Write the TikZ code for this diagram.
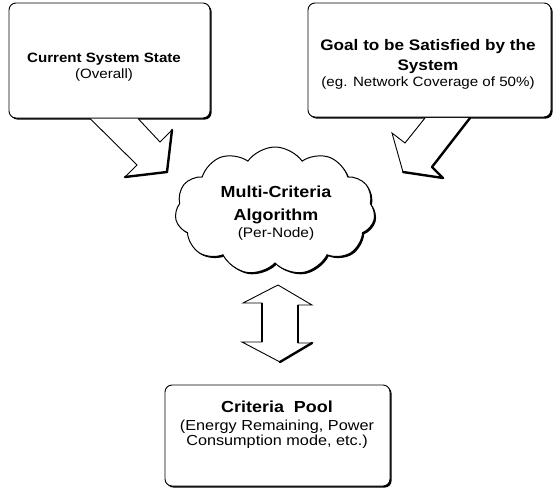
\documentclass[tikz,border=0pt]{standalone}
\usepackage{fontspec}
\setmainfont{Liberation Sans}[FakeStretch=1.12]
\usetikzlibrary{shapes.symbols,shadows}
\begin{document}
\begin{tikzpicture}[x=1pt,y=-1pt,
  sh/.style={general shadow={fill=black, shadow xshift=1.6pt, shadow yshift=-1.6pt}},
  boxstyle/.style={draw, line width=0.9pt, rounded corners=7pt, fill=white, sh, inner sep=0pt},
  ln/.style={anchor=base, inner sep=0pt},
  bf/.style={ln, font=\fontsize{#1}{#1}\selectfont\bfseries},
  rf/.style={ln, font=\fontsize{#1}{#1}\selectfont},
  arr/.style={draw, line width=0.9pt, fill=white, line join=miter},
  arrsh/.style={line width=2.4pt, line cap=round, line join=round}
]
\useasboundingbox (0,0) rectangle (554,488);

% boxes
\node[boxstyle, minimum width=201pt, minimum height=115pt] (cur) at (109.5,60.5) {};
\node[boxstyle, minimum width=243pt, minimum height=114pt] (goal) at (429.5,60) {};
\node[boxstyle, minimum width=225pt, minimum height=101pt] (pool) at (277.5,435.5) {};

% cloud
\node[cloud, draw, line width=1pt, fill=white, sh, cloud puffs=11, cloud puff arc=110,
      aspect=1.55, minimum width=200pt, minimum height=128pt, inner sep=0pt] (alg) at (275,211) {};

% labels
\node[bf=13.5] (cur1) at (104,62) {Current System State};
\node[rf=13.5] (cur2) at (104,78) {(Overall)};

\node[bf=15.3] (goal1) at (428,50) {Goal to be Satisfied by the};
\node[bf=15.3] (goal2) at (428,70) {System};
\node[rf=13.5] (goal3) at (428,86) {(eg. Network Coverage of 50\%)};

\node[bf=16] (alg1) at (276,197) {Multi-Criteria};
\node[bf=16] (alg2) at (276,220) {Algorithm};
\node[rf=13.8] (alg3) at (276,237) {(Per-Node)};

\node[bf=16] (pool1) at (277,412) {Criteria\ \ Pool};
\node[rf=14.5] (pool2) at (277,430) {(Energy Remaining, Power};
\node[rf=14.5] (pool3) at (277,445) {Consumption mode, etc.)};

% left block arrow (Current System State -> Algorithm)
\coordinate (la1) at (90,118.5);
\coordinate (la2) at (137,165);
\coordinate (la3) at (125,177);
\coordinate (la4) at (167,172);
\coordinate (la5) at (172,130);
\coordinate (la6) at (160,142);
\coordinate (la7) at (138,118.5);
\fill[white] (la1) -- (la2) -- (la3) -- (la4) -- (la5) -- (la6) -- (la7) -- cycle;
\draw[arr, fill=none] (la1) -- (la2) -- (la3) -- (la4) -- (la5) -- (la6) -- (la7);
\draw[arrsh] (la3) -- (la4) -- (la5);

% right block arrow (Goal -> Algorithm)
\coordinate (ra1) at (425,118);
\coordinate (ra2) at (405,143);
\coordinate (ra3) at (392,133);
\coordinate (ra4) at (403,172);
\coordinate (ra5) at (443,178);
\coordinate (ra6) at (432,167);
\coordinate (ra7) at (470,118);
\fill[white] (ra1) -- (ra2) -- (ra3) -- (ra4) -- (ra5) -- (ra6) -- (ra7) -- cycle;
\draw[arr, fill=none] (ra1) -- (ra2) -- (ra3) -- (ra4) -- (ra5) -- (ra6) -- (ra7);
\draw[arrsh] (ra4) -- (ra5) -- (ra6) -- (ra7);

% double block arrow (Algorithm <-> Criteria Pool)
\coordinate (da1) at (278,285);
\coordinate (da2) at (243,303);
\coordinate (da3) at (262,303);
\coordinate (da4) at (262,342);
\coordinate (da5) at (242,342);
\coordinate (da6) at (280,362);
\coordinate (da7) at (312,343);
\coordinate (da8) at (298,343);
\coordinate (da9) at (298,305);
\coordinate (da10) at (312,305);
\draw[arr] (da1) -- (da2) -- (da3) -- (da4) -- (da5) -- (da6) -- (da7) -- (da8) -- (da9) -- (da10) -- cycle;
\draw[arrsh] (da6) -- (da7);
\draw[line width=1.8pt] (da3) -- (da4);
\draw[line width=1.8pt] (da9) -- (da8);
\end{tikzpicture}
\end{document}
